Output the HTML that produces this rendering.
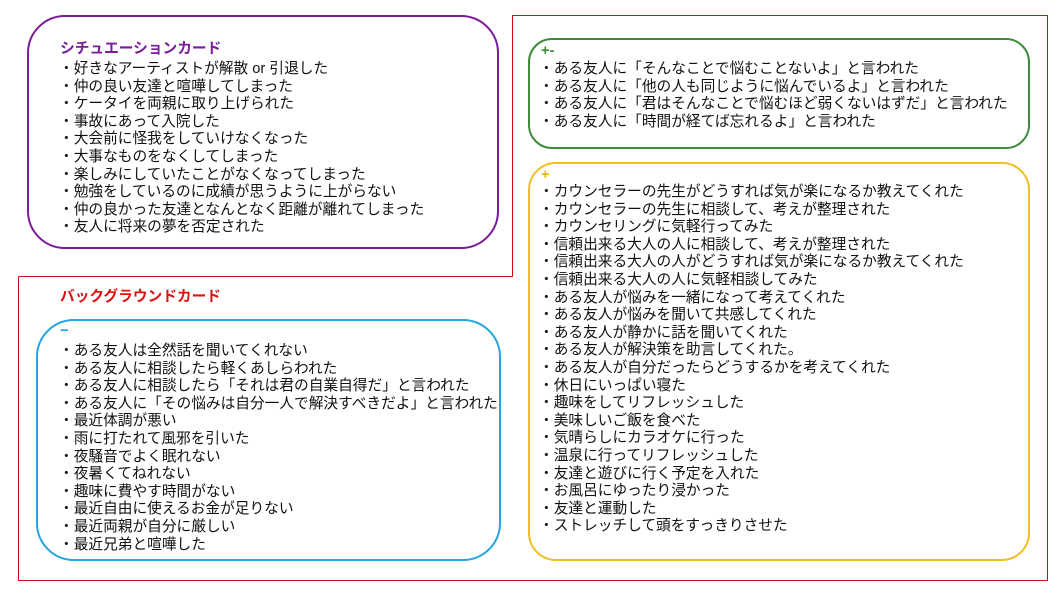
<!DOCTYPE html>
<html><head><meta charset="utf-8"><style>
html,body{margin:0;padding:0;background:#fff;}
body{width:1063px;height:598px;position:relative;overflow:hidden;font-family:"Liberation Sans","Noto Sans CJK JP",sans-serif;font-size:14.7px;color:#111;}
.b{position:absolute;box-sizing:border-box;background:#fff;}
.t{position:absolute;line-height:17.6px;white-space:nowrap;}
.t div{height:17.6px;}
.h{font-weight:bold;}
</style></head><body>
<svg width="1063" height="598" style="position:absolute;left:0;top:0">
<polyline points="18.5,276.5 512.5,276.5 512.5,15.5 1047.5,15.5 1047.5,580.5 18.5,580.5 18.5,276.5" fill="none" stroke="#d01010" stroke-width="1"/>
</svg>
<div class="b" style="left:27px;top:15px;width:472px;height:234px;border:2.5px solid #7a1b9a;border-radius:38px;"></div>
<div class="b" style="left:36px;top:319px;width:465px;height:242px;border:2.5px solid #23a5e0;border-radius:38px;"></div>
<div class="b" style="left:528px;top:38px;width:502px;height:111px;border:2.5px solid #3f8a3c;border-radius:24px;"></div>
<div class="b" style="left:528px;top:162px;width:502px;height:399px;border:2.5px solid #f0c020;border-radius:28px;"></div>

<div class="t h" style="left:60px;top:41px;color:#7a1b9a;">シチュエーションカード</div>
<div class="t" style="left:59px;top:61px;">
<div>・好きなアーティストが解散 or 引退した</div>
<div>・仲の良い友達と喧嘩してしまった</div>
<div>・ケータイを両親に取り上げられた</div>
<div>・事故にあって入院した</div>
<div>・大会前に怪我をしていけなくなった</div>
<div>・大事なものをなくしてしまった</div>
<div>・楽しみにしていたことがなくなってしまった</div>
<div>・勉強をしているのに成績が思うように上がらない</div>
<div>・仲の良かった友達となんとなく距離が離れてしまった</div>
<div>・友人に将来の夢を否定された</div>
</div>

<div class="t h" style="left:60px;top:289px;color:#e01010;">バックグラウンドカード</div>
<div class="t h" style="left:60px;top:323px;color:#23a5e0;">−</div>
<div class="t" style="left:59px;top:343px;">
<div>・ある友人は全然話を聞いてくれない</div>
<div>・ある友人に相談したら軽くあしらわれた</div>
<div>・ある友人に相談したら「それは君の自業自得だ」と言われた</div>
<div>・ある友人に「その悩みは自分一人で解決すべきだよ」と言われた</div>
<div>・最近体調が悪い</div>
<div>・雨に打たれて風邪を引いた</div>
<div>・夜騒音でよく眠れない</div>
<div>・夜暑くてねれない</div>
<div>・趣味に費やす時間がない</div>
<div>・最近自由に使えるお金が足りない</div>
<div>・最近両親が自分に厳しい</div>
<div>・最近兄弟と喧嘩した</div>
</div>

<div class="t h" style="left:541px;top:43px;color:#3f8a3c;">+-</div>
<div class="t" style="left:539px;top:61px;">
<div>・ある友人に「そんなことで悩むことないよ」と言われた</div>
<div>・ある友人に「他の人も同じように悩んでいるよ」と言われた</div>
<div>・ある友人に「君はそんなことで悩むほど弱くないはずだ」と言われた</div>
<div>・ある友人に「時間が経てば忘れるよ」と言われた</div>
</div>

<div class="t h" style="left:541px;top:167px;color:#e6b800;">+</div>
<div class="t" style="left:539px;top:184px;">
<div>・カウンセラーの先生がどうすれば気が楽になるか教えてくれた</div>
<div>・カウンセラーの先生に相談して、考えが整理された</div>
<div>・カウンセリングに気軽行ってみた</div>
<div>・信頼出来る大人の人に相談して、考えが整理された</div>
<div>・信頼出来る大人の人がどうすれば気が楽になるか教えてくれた</div>
<div>・信頼出来る大人の人に気軽相談してみた</div>
<div>・ある友人が悩みを一緒になって考えてくれた</div>
<div>・ある友人が悩みを聞いて共感してくれた</div>
<div>・ある友人が静かに話を聞いてくれた</div>
<div>・ある友人が解決策を助言してくれた。</div>
<div>・ある友人が自分だったらどうするかを考えてくれた</div>
<div>・休日にいっぱい寝た</div>
<div>・趣味をしてリフレッシュした</div>
<div>・美味しいご飯を食べた</div>
<div>・気晴らしにカラオケに行った</div>
<div>・温泉に行ってリフレッシュした</div>
<div>・友達と遊びに行く予定を入れた</div>
<div>・お風呂にゆったり浸かった</div>
<div>・友達と運動した</div>
<div>・ストレッチして頭をすっきりさせた</div>
</div>
</body></html>
